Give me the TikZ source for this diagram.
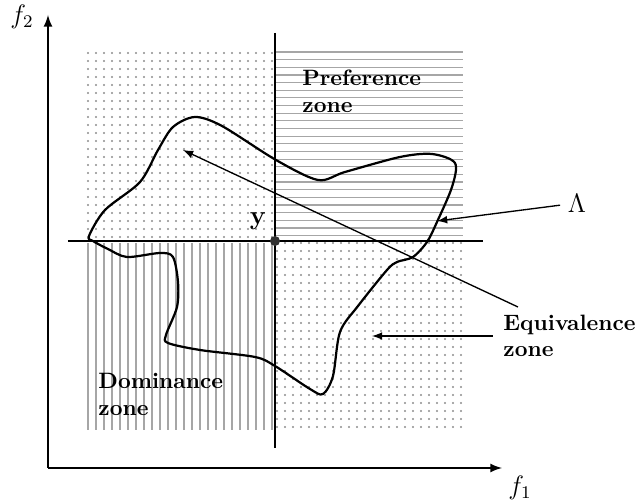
\documentclass[tikz,border=0pt]{standalone}
\usetikzlibrary{positioning,calc}
\tikzset{
  zone label/.style={font=\bfseries,align=left,anchor=north west,inner sep=0pt},
  axis arrow/.style={-latex,thick},
  cross line/.style={thick},
  hatch line/.style={draw=black!35,line width=.5pt},
  grid dot/.style={fill=black!45},
  front curve/.style={line width=1pt,line join=round},
  pointer/.style={-latex,semithick}
}

\begin{document}
\begin{tikzpicture}[x=.45pt,y=-.45pt]
  \useasboundingbox (0,0) rectangle (638,504);
  \foreach \y in {52,59.65,...,237} \draw[hatch line] (276,\y) -- (463,\y);
  \foreach \x in {88,96,...,273} \draw[hatch line] (\x,243) -- (\x,430);
  \foreach \x in {88,96,...,273} \foreach \y in {53,61,...,238} \fill[grid dot] (\x,\y) circle (1.2);
  \foreach \x in {277,285,...,462} \foreach \y in {243,251,...,428} \fill[grid dot] (\x,\y) circle (1.2);
  \coordinate (origin) at (48,468);
  \coordinate (f2end) at (48,15);
  \coordinate (f1end) at (502,468);
  \draw[axis arrow] (origin) -- (f2end);
  \draw[axis arrow] (origin) -- (f1end);
  \node[font=\large] (f2lab) at (22,17) {$f_2$};
  \node[font=\large] (f1lab) at (520,488) {$f_1$};
  \coordinate (vtop) at (275,33);
  \coordinate (vbot) at (275,448);
  \coordinate (hleft) at (68,241);
  \coordinate (hright) at (483,241);
  \draw[cross line] (vtop) -- (vbot);
  \draw[cross line] (hleft) -- (hright);
  \draw[front curve] plot[smooth cycle] coordinates {(89,236) (105,210) (140,182)
    (158,150) (173,127) (195,117) (222,126) (276,160) (318,180) (345,172)
    (400,157) (432,154) (455,163) (452,187) (437,222) (427,242) (413,257)
    (397,262) (387,270) (358,306) (340,332) (333,376) (323,394) (310,389)
    (275,366) (255,357) (200,350) (168,343) (166,335) (177,307) (178,282)
    (173,257) (160,253) (127,257) (108,249) (93,241)};
  \node[circle,fill=black!80,inner sep=0pt,minimum size=4.5pt] (ypt) at (275,241) {};
  \node[font=\large] (ylab) at (258,221) {$\mathbf{y}$};
  \node[zone label] (pref) at (302,70) {Preference\\zone};
  \node[zone label] (dom) at (98,373) {Dominance\\zone};
  \node[zone label,anchor=west,inner xsep=4.5pt] (eqv) at (493,336) {Equivalence\\zone};
  \node[font=\large] (lam) at (577,203) {$\Lambda$};
  \coordinate (lamtip) at (437,221);
  \coordinate (eqvtip) at (372,336);
  \coordinate (longtail) at (518,307);
  \coordinate (longtip) at (183,150);
  \draw[pointer] (lam) -- (lamtip);
  \draw[pointer] (eqv.west) -- (eqvtip);
  \draw[pointer] (longtail) -- (longtip);
\end{tikzpicture}
\end{document}
